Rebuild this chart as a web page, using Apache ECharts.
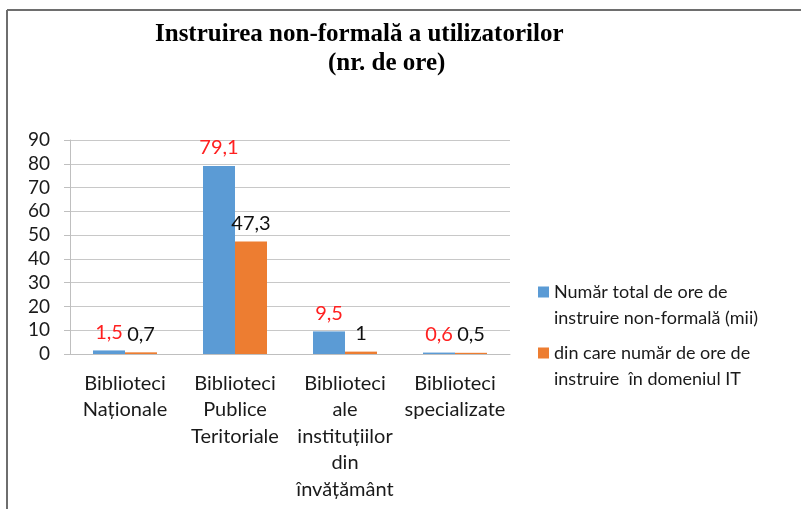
<!DOCTYPE html>
<html>
<head>
<meta charset="utf-8">
<script src="https://cdn.jsdelivr.net/npm/echarts@6/dist/echarts.min.js"></script>
<style>
  html, body { margin: 0; padding: 0; background: #fff; }
  #chart { width: 801px; height: 509px; }
</style>
</head>
<body>
<div id="chart"></div>
<script>
'use strict';

var categories = [
    'Biblioteci\nNaționale',
    'Biblioteci\nPublice\nTeritoriale',
    'Biblioteci\nale\ninstituțiilor\ndin\nînvățământ',
    'Biblioteci\nspecializate'
];
var seriesNames = [
    'Număr total de ore de\ninstruire non-formală (mii)',
    'din care număr de ore de\ninstruire  în domeniul IT'
];
var totalHours = [1.5, 79.1, 9.5, 0.6];
var itHours = [0.7, 47.3, 1, 0.5];

var FONT = 'Lato, "Noto Sans", sans-serif';
// square at the top of a taller box so the marker sits on the first text line
var LEGEND_ICON = 'path://M0,0H11V11H0Z M0,36.9H0.05V37H0Z';

function fmt(p) {
    return String(p.value).replace('.', ',');
}

var myChart = echarts.init(document.getElementById('chart'));
myChart.setOption({
    animation: false,
    backgroundColor: '#fff',
    title: [{
        text: 'Instruirea non-formală a utilizatorilor',
        left: 155, top: 22, padding: 0,
        textStyle: { fontFamily: '"Liberation Serif", serif', fontWeight: 'bold', fontSize: 25, color: '#000' }
    }, {
        text: '(nr. de ore)',
        left: 328, top: 51, padding: 0,
        textStyle: { fontFamily: '"Liberation Serif", serif', fontWeight: 'bold', fontSize: 25, color: '#000' }
    }],
    graphic: [{
        type: 'line', shape: { x1: 7, y1: 10, x2: 801, y2: 10 },
        style: { stroke: '#6e6e6e', lineWidth: 2 }
    }, {
        type: 'line', shape: { x1: 7, y1: 10, x2: 7, y2: 509 },
        style: { stroke: '#6e6e6e', lineWidth: 2 }
    }],
    legend: {
        orient: 'vertical',
        left: 538, top: 279,
        itemWidth: 11, itemHeight: 37,
        itemGap: 9,
        padding: 0,
        textStyle: { fontFamily: FONT, fontSize: 18, color: '#1a1a1a', lineHeight: 26 },
        data: [
            { name: seriesNames[0], icon: LEGEND_ICON },
            { name: seriesNames[1], icon: LEGEND_ICON }
        ]
    },
    grid: { left: 70, right: 291, top: 140, bottom: 155, containLabel: false },
    xAxis: {
        type: 'category',
        data: categories,
        axisLine: { lineStyle: { color: '#bfbfbf' } },
        axisTick: { length: 5, lineStyle: { color: '#bfbfbf' } },
        axisLabel: { fontFamily: FONT, fontSize: 20, color: '#1a1a1a', lineHeight: 26.5, margin: 16, interval: 0 }
    },
    yAxis: {
        type: 'value',
        min: 0, max: 90, interval: 10,
        axisLine: { show: true, lineStyle: { color: '#bfbfbf' } },
        axisTick: { show: true, length: 6, lineStyle: { color: '#bfbfbf' } },
        splitLine: { lineStyle: { color: '#c8c8c8' } },
        axisLabel: { fontFamily: FONT, fontSize: 19, color: '#1a1a1a', margin: 20 }
    },
    series: [{
        name: seriesNames[0],
        type: 'bar',
        data: totalHours,
        barWidth: 32,
        barGap: '0%',
        itemStyle: { color: '#5b9bd5' },
        label: { show: true, position: 'top', distance: 8, formatter: fmt, fontFamily: FONT, fontSize: 20, color: '#ff2020' }
    }, {
        name: seriesNames[1],
        type: 'bar',
        data: itHours,
        barWidth: 32,
        barGap: '0%',
        itemStyle: { color: '#ed7d31' },
        label: { show: true, position: 'top', distance: 8, formatter: fmt, fontFamily: FONT, fontSize: 20, color: '#111' }
    }]
});
</script>
</body>
</html>
